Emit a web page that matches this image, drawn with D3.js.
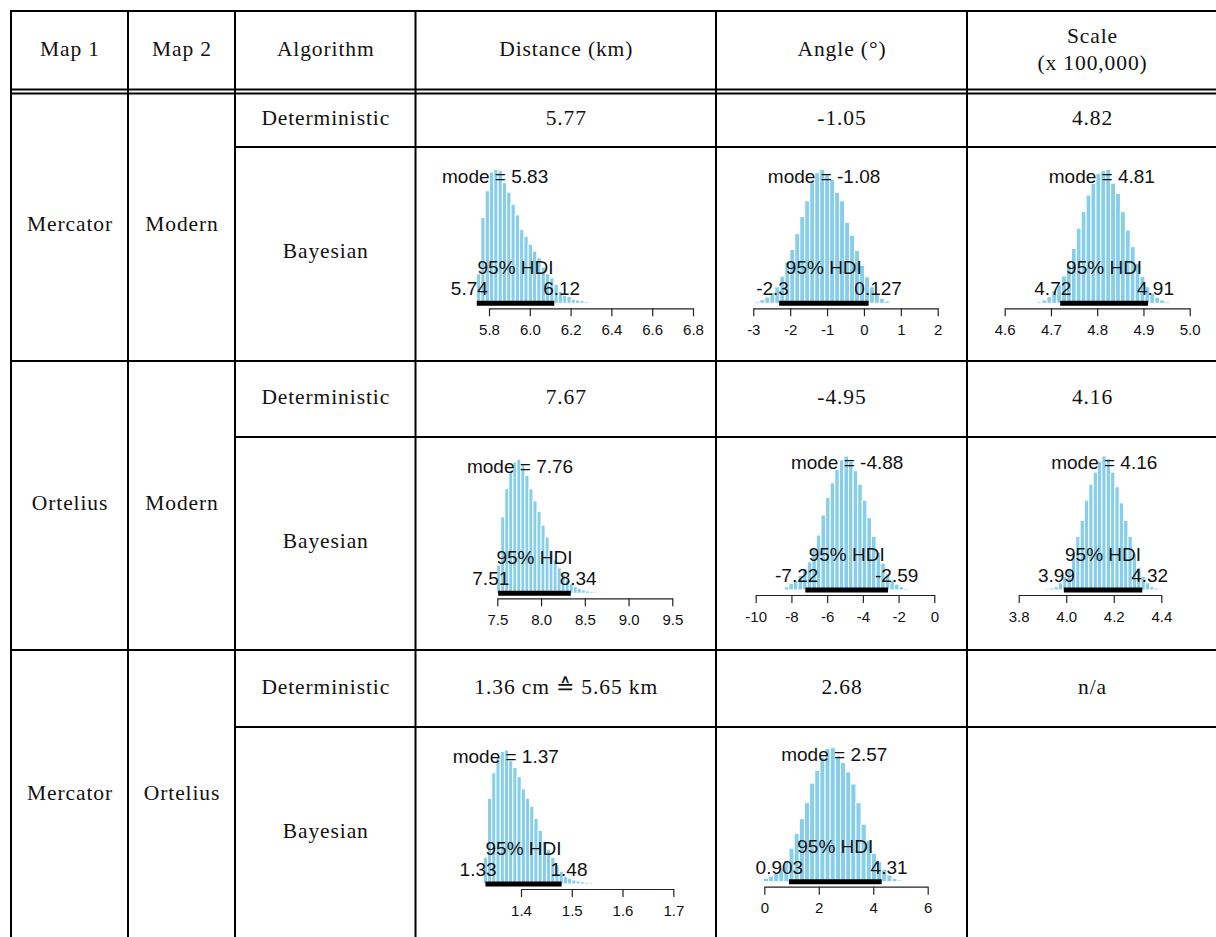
<!DOCTYPE html>
<html><head><meta charset="utf-8">
<script src="https://cdn.jsdelivr.net/npm/d3@7"></script>
<style>body{margin:0;background:#fff}svg{display:block}</style>
</head><body>
<svg id="chart" width="1216" height="937"></svg>
<script>
// ---------------- DATA ----------------
const headers = ["Map 1", "Map 2", "Algorithm", "Distance (km)", "Angle (°)", "Scale|(x 100,000)"];
const map1 = ["Mercator", "Ortelius", "Mercator"];
const map2 = ["Modern", "Modern", "Ortelius"];
const algorithms = ["Deterministic", "Bayesian"];
const deterministic = [
  ["5.77", "-1.05", "4.82"],
  ["7.67", "-4.95", "4.16"],
  ["1.36 cm \u2259 5.65 km", "2.68", "n/a"]
];
// Bayesian panels in order: row0 (dist, angle, scale), row1 (dist, angle, scale), row2 (dist, angle)
const panelRow = [0, 0, 0, 1, 1, 1, 2, 2];
const panelCol = [0, 1, 2, 0, 1, 2, 0, 1];
const modeValues = [5.83, -1.08, 4.81, 7.76, -4.88, 4.16, 1.37, 2.57];
const modeLabels = ["5.83", "-1.08", "4.81", "7.76", "-4.88", "4.16", "1.37", "2.57"];
const hdiLow = [5.74, -2.3, 4.72, 7.51, -7.22, 3.99, 1.33, 0.903];
const hdiLowLabels = ["5.74", "-2.3", "4.72", "7.51", "-7.22", "3.99", "1.33", "0.903"];
const hdiHigh = [6.12, 0.127, 4.91, 8.34, -2.59, 4.32, 1.48, 4.31];
const hdiHighLabels = ["6.12", "0.127", "4.91", "8.34", "-2.59", "4.32", "1.48", "4.31"];
const tickValues = [
  [5.8, 6.0, 6.2, 6.4, 6.6, 6.8],
  [-3, -2, -1, 0, 1, 2],
  [4.6, 4.7, 4.8, 4.9, 5.0],
  [7.5, 8.0, 8.5, 9.0, 9.5],
  [-10, -8, -6, -4, -2, 0],
  [3.8, 4.0, 4.2, 4.4],
  [1.4, 1.5, 1.6, 1.7],
  [0, 2, 4, 6]
];
const tickLabels = [
  ["5.8", "6.0", "6.2", "6.4", "6.6", "6.8"],
  ["-3", "-2", "-1", "0", "1", "2"],
  ["4.6", "4.7", "4.8", "4.9", "5.0"],
  ["7.5", "8.0", "8.5", "9.0", "9.5"],
  ["-10", "-8", "-6", "-4", "-2", "0"],
  ["3.8", "4.0", "4.2", "4.4"],
  ["1.4", "1.5", "1.6", "1.7"],
  ["0", "2", "4", "6"]
];
const binStart = [5.739, -2.955, 4.670, 7.493, -8.40, 3.912, 1.3258, -0.037];
const binWidth = [0.0211, 0.135, 0.0106, 0.0461, 0.257, 0.0183, 0.0083, 0.189];
// relative bar heights (% of tallest bar)
const binHeights = [
  [22, 64, 84, 98, 100, 99, 90, 83, 74, 66, 55, 50, 44, 39, 34, 27, 22, 19, 14, 9, 6, 5, 3, 2.5, 2, 1.2, 0.8],
  [1.2, 2.7, 4.7, 7.9, 12.3, 20.2, 30.9, 40.2, 51.9, 64.7, 76.5, 90, 97.5, 100, 95.8, 92.6, 82.7, 76.5, 60.5, 50.6, 39.5, 28.4, 19.8, 12.3, 6.9, 3.7, 1.7],
  [1.2, 2.5, 5, 9.5, 13.7, 20.4, 28.6, 41, 56, 68.4, 80.8, 89.6, 97, 99, 100, 89.6, 82, 68.4, 54.7, 42.3, 29.9, 19.9, 12.4, 7.5, 4.5, 2.5, 1.2],
  [21, 57, 78, 91, 98, 100, 96, 88, 78, 69, 61, 51, 42, 32, 25, 19, 14, 10, 7, 5, 3.7, 2.5, 1.7, 1.2, 0.9, 0.7, 0.5],
  [2.5, 5, 7.4, 11, 16, 21, 31, 41, 56, 69, 80, 90, 97, 100, 96, 89, 79, 67, 54, 40, 28, 20, 12, 7.4, 4.4, 2.5, 1.2],
  [1, 1.5, 2.5, 5.4, 10, 16, 26, 40, 52, 67, 79, 88, 96, 100, 98, 88, 77, 65, 52, 40, 27, 17, 10, 5.4, 2.5, 1.5, 1],
  [20, 64, 83, 95, 99, 100, 92, 87, 80, 71, 64, 58, 49, 40, 32, 26, 20, 14.5, 9.4, 5.6, 4.3, 3, 2.3, 1.8, 1.3, 1, 0.8],
  [2.5, 4.2, 6.2, 10, 16, 25, 36, 47, 59, 73.6, 83, 93, 99.5, 100, 94, 89, 82, 73, 59, 43, 31, 21, 15, 9.4, 5, 2.5, 1.2]
];

// ---------------- LAYOUT ----------------
const colX = [11, 128, 235, 415.5, 716, 967, 1217];
const headerTop = 11, headerBot1 = 89.5, headerBot2 = 93.5;
const groupTop = [93.5, 361, 650];
const groupMid = [147, 437, 727];
const groupBot = [361, 650, 941];
// axis frame for each panel: pixel x of first / last tick, pixel y of histogram baseline
const axisPx = [[489, 693], [753.3, 937.7], [1004.7, 1189.7], [497.3, 672.3], [755.7, 934.3], [1018.7, 1161.3], [521, 673.3], [764.3, 927.7]];
const baseY = [303.3, 303.3, 303.3, 593.3, 590, 590, 884, 881.7];
const barMaxPx = 134;

const serif = "'Liberation Serif','Times New Roman',serif";
const sans = "'Liberation Sans',Arial,sans-serif";

const svg = d3.select("#chart");
svg.append("rect").attr("width", 1216).attr("height", 937).attr("fill", "#fff");

const gHist = svg.append("g");
const gText = svg.append("g");
const gLines = svg.append("g").attr("stroke", "#000").attr("stroke-width", 2).attr("fill", "none");

function cellText(txt, x, y) {
  gText.append("text").attr("x", x + 0.5).attr("y", y)
    .attr("text-anchor", "middle").attr("dominant-baseline", "central")
    .attr("font-family", serif).attr("font-size", 21.5).attr("letter-spacing", 0.9)
    .attr("fill", "#111").text(txt);
}
const colMid = i => (colX[i] + colX[i + 1]) / 2;

// header
headers.forEach((h, i) => {
  const parts = h.split("|");
  const cy = (headerTop + headerBot1) / 2;
  if (parts.length === 1) cellText(parts[0], colMid(i), cy - 1);
  else { cellText(parts[0], colMid(i), cy - 14); cellText(parts[1], colMid(i), cy + 13); }
});

// body text
for (let r = 0; r < 3; r++) {
  const gm = (groupTop[r] + groupBot[r]) / 2;
  cellText(map1[r], colMid(0), gm - 3);
  cellText(map2[r], colMid(1), gm - 3);
  const dm = (groupTop[r] + groupMid[r]) / 2;
  const bm = (groupMid[r] + groupBot[r]) / 2;
  cellText(algorithms[0], colMid(2), dm - 2);
  cellText(algorithms[1], colMid(2), bm - 3);
  deterministic[r].forEach((v, c) => cellText(v, colMid(3 + c), dm - 2));
}

// histograms
modeValues.forEach((mode, i) => {
  const ticks = tickValues[i];
  const x = d3.scaleLinear().domain([ticks[0], ticks[ticks.length - 1]]).range(axisPx[i]);
  const y = d3.scaleLinear().domain([0, 100]).range([baseY[i], baseY[i] - barMaxPx]);
  const g = gHist.append("g");
  const bs = binStart[i], bw = binWidth[i];
  g.selectAll("rect").data(binHeights[i]).join("rect")
    .attr("x", (d, j) => x(bs + j * bw))
    .attr("width", (d, j) => x(bs + (j + 1) * bw) - x(bs + j * bw))
    .attr("y", d => y(d))
    .attr("height", d => y(0) - y(d))
    .attr("fill", "#87CEEB").attr("stroke", "#fff").attr("stroke-width", 1);
  // HDI bar
  g.append("line").attr("x1", x(hdiLow[i])).attr("x2", x(hdiHigh[i]))
    .attr("y1", y(0)).attr("y2", y(0)).attr("stroke", "#000").attr("stroke-width", 5);
  // axis
  const ax = g.append("g").attr("transform", `translate(0,${baseY[i] + 5})`)
    .call(d3.axisBottom(x).tickValues(ticks).tickFormat((d, k) => tickLabels[i][k])
      .tickSize(8).tickSizeOuter(0).tickPadding(8));
  ax.selectAll("path,line").attr("stroke", "#222").attr("stroke-width", 1.2);
  ax.selectAll("text").attr("font-family", sans).attr("font-size", 15).attr("fill", "#111");
  // texts
  const t = (s, tx, ty, anchor) => g.append("text").attr("x", tx).attr("y", ty)
    .attr("text-anchor", anchor).attr("font-family", sans).attr("font-size", 19)
    .attr("fill", "#111").text(s);
  t("mode = " + modeLabels[i], x(mode), y(90), "middle");
  t("95% HDI", x((hdiLow[i] + hdiHigh[i]) / 2), baseY[i] - 29, "middle");
  const lo = t(hdiLowLabels[i], x(hdiLow[i]), baseY[i] - 8, "end");
  lo.attr("x", x(hdiLow[i]) + 0.3 * lo.node().getComputedTextLength());
  const hi = t(hdiHighLabels[i], x(hdiHigh[i]), baseY[i] - 8, "start");
  hi.attr("x", x(hdiHigh[i]) - 0.3 * hi.node().getComputedTextLength());
});

// table lines
const hline = (y, x1, x2) => gLines.append("line").attr("x1", x1).attr("x2", x2).attr("y1", y).attr("y2", y);
hline(headerTop, colX[0] - 1, colX[6]);
hline(headerBot1, colX[0] - 1, colX[6]);
hline(headerBot2, colX[0] - 1, colX[6]);
groupBot.forEach(y => hline(y, colX[0] - 1, colX[6]));
groupMid.forEach(y => hline(y, colX[2], colX[6]));
colX.forEach(x => gLines.append("line").attr("x1", x).attr("x2", x).attr("y1", headerTop - 1).attr("y2", groupBot[2]));
</script>
</body></html>
